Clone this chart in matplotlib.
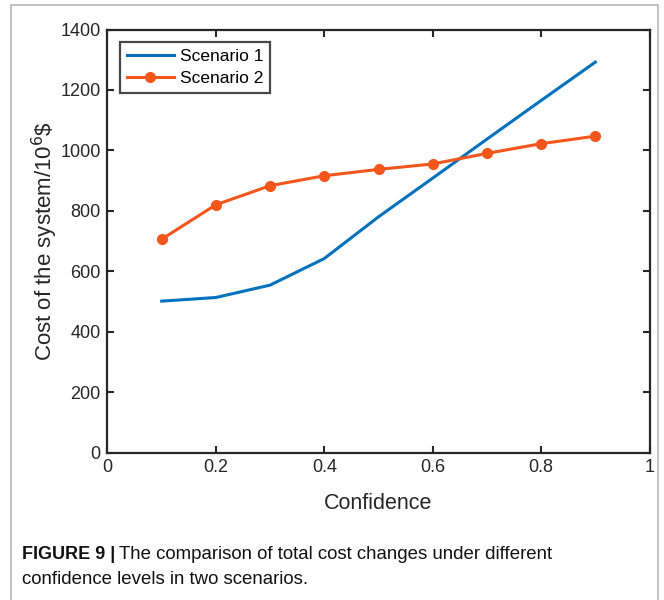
import matplotlib
matplotlib.use("Agg")
import matplotlib.pyplot as plt
from matplotlib.patches import Rectangle

plt.rcParams['font.family'] = ['Liberation Sans', 'DejaVu Sans']

confidence = [0.1, 0.2, 0.3, 0.4, 0.5, 0.6, 0.7, 0.8, 0.9]
scenario1 = [501, 513, 554, 642, 780, 908, 1037, 1165, 1292]
scenario2 = [706, 820, 883, 916, 937, 955, 990, 1022, 1047]

x_ticks = [0, 0.2, 0.4, 0.6, 0.8, 1]
x_tick_labels = ["0", "0.2", "0.4", "0.6", "0.8", "1"]
y_ticks = [0, 200, 400, 600, 800, 1000, 1200, 1400]

blue = "#0072BD"
orange = "#F4561C"
ink = "#262626"

fig = plt.figure(figsize=(6.64, 6.0), dpi=100)

# outer frame around figure and caption
fig.patches.append(Rectangle((11 / 664, -0.01), 647 / 664, 1 - 5 / 600 + 0.01,
                             transform=fig.transFigure, fill=False,
                             edgecolor="#b8b8b8", linewidth=1.2))

ax = fig.add_axes([107.5 / 664, 1 - 452.5 / 600, 542 / 664, 423 / 600])

ax.plot(confidence, scenario1, color=blue, linewidth=2.2, label="Scenario 1")
ax.plot(confidence, scenario2, color=orange, linewidth=2.2, marker="o",
        markersize=7, label="Scenario 2")

ax.set_xlim(0, 1)
ax.set_ylim(0, 1400)
ax.set_xticks(x_ticks)
ax.set_xticklabels(x_tick_labels)
ax.set_yticks(y_ticks)
ax.tick_params(direction="in", length=5, width=1.5, top=True, right=True,
               labelsize=13, colors=ink, pad=5)
for s in ax.spines.values():
    s.set_linewidth(1.6)
    s.set_color(ink)

ax.set_xlabel("Confidence", fontsize=15.5, color=ink, labelpad=12)
ax.set_ylabel("Cost of the system/10$^{6}$\\$", fontsize=16, color=ink,
              labelpad=0)

leg = ax.legend(loc="upper left", bbox_to_anchor=(0.0, 1.0), fontsize=12.5,
                frameon=True, fancybox=False, handlelength=2.75,
                borderpad=0.4, labelspacing=0.42, handletextpad=0.3,
                borderaxespad=0.7)
leg.get_frame().set_edgecolor("#1a1a1a")
leg.get_frame().set_linewidth(1.6)

# caption
cap_y1 = 1 - 559 / 600
cap_y2 = 1 - 584 / 600
t1 = fig.text(22 / 664, cap_y1, "FIGURE 9 |", fontsize=13, fontweight="bold",
              color="#111111", va="baseline")
fig.canvas.draw()
bb = t1.get_window_extent()
fig.text((bb.x1 + 4) / 664, cap_y1,
         "The comparison of total cost changes under different",
         fontsize=13.4, color="#111111", va="baseline")
fig.text(22 / 664, cap_y2, "confidence levels in two scenarios.",
         fontsize=13.4, color="#111111", va="baseline")

fig.savefig("out.png", dpi=100)
